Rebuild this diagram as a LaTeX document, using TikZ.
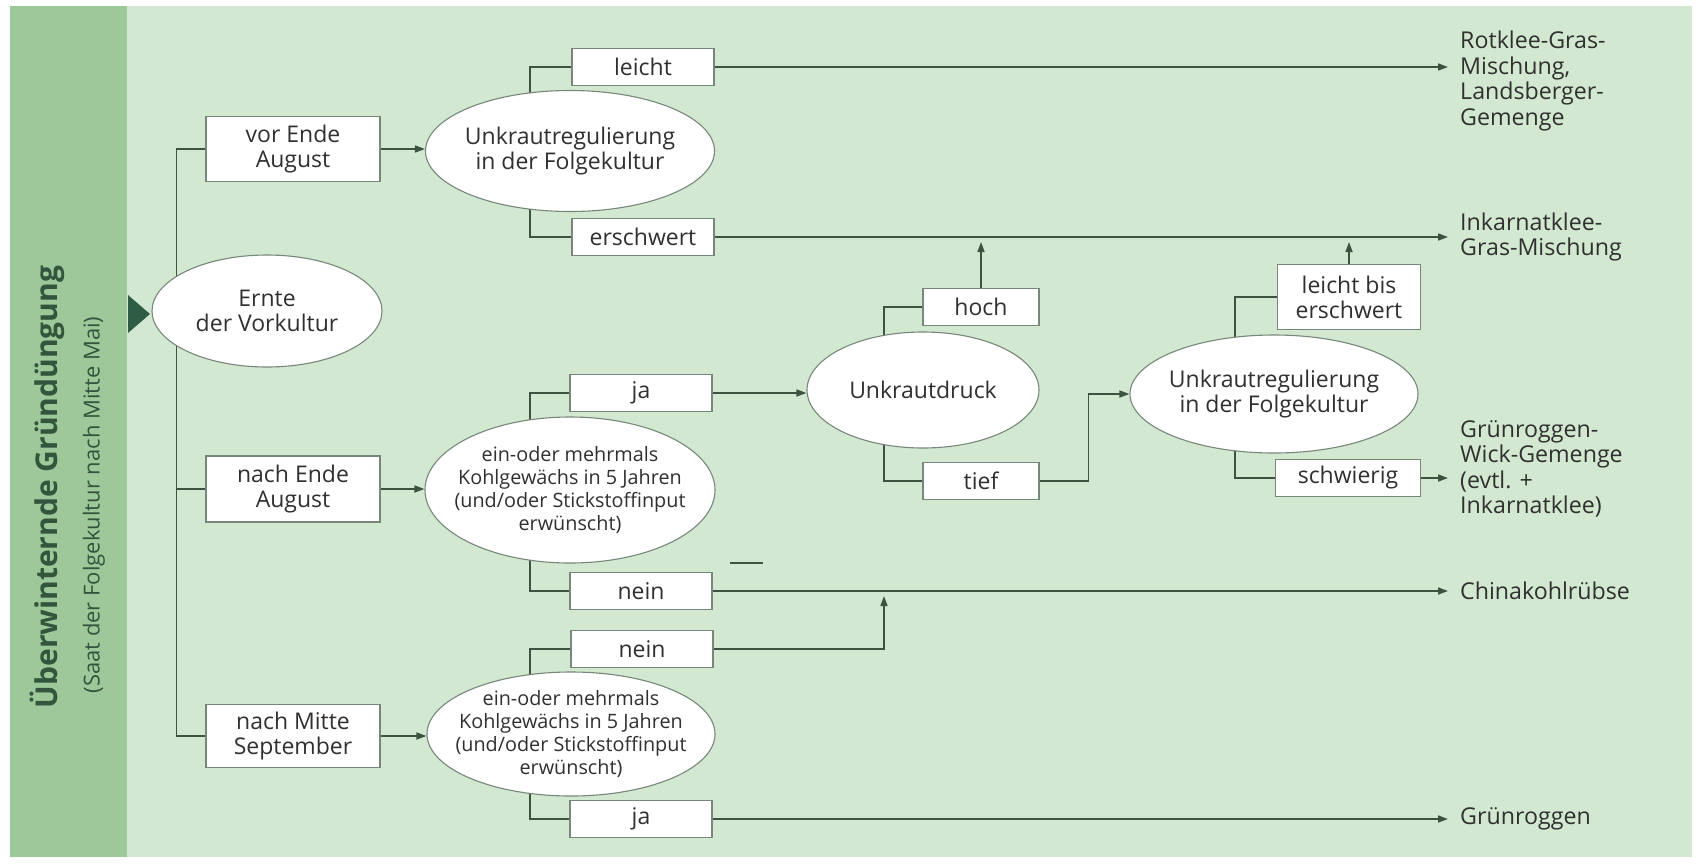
\documentclass[tikz,border=0pt]{standalone}
\usepackage{fontspec}
\setmainfont{Open Sans}
\usetikzlibrary{shapes.geometric,arrows.meta,backgrounds}
\definecolor{bglight}{HTML}{D3E8D1}
\definecolor{bandc}{HTML}{9DC899}
\definecolor{linec}{HTML}{3E5242}
\definecolor{boxc}{HTML}{77877A}
\definecolor{txt}{HTML}{303030}
\definecolor{tric}{HTML}{2F5C44}
\definecolor{bandtxt}{HTML}{33553D}
\tikzset{
  bx/.style={draw=boxc, line width=1.1pt, fill=white, minimum width=142pt, minimum height=37pt,
    inner sep=0pt, align=center, text=txt, font=\fontsize{23}{25}\selectfont},
  el/.style={ellipse, draw=boxc, line width=1.1pt, fill=white, inner sep=-40pt, align=center,
    text=txt, font=\fontsize{23}{25}\selectfont},
  elsmall/.style={el, font=\fontsize{19.8}{23.3}\selectfont},
  conn/.style={draw=linec, line width=1.6pt},
  arr/.style={conn, -{Triangle[length=10pt,width=7pt]}},
  lbl/.style={anchor=west, align=left, text=txt, inner sep=0pt, font=\fontsize{23.2}{25.5}\selectfont}
}
\begin{document}
\begin{tikzpicture}[x=1pt,y=-1pt]
\useasboundingbox (0,0) rectangle (1698,863);
% nodes
\node[el, minimum width=230pt, minimum height=112pt] (ernte) at (267,311) {Ernte\\der Vorkultur};
\node[bx, minimum width=174pt, minimum height=65pt] (vorEnde) at (293,149) {vor Ende\\August};
\node[bx, minimum width=174pt, minimum height=66pt] (nachEnde) at (293,489) {nach Ende\\August};
\node[bx, minimum width=174pt, minimum height=63pt] (nachMitte) at (293,736) {nach Mitte\\September};
\node[el, minimum width=289pt, minimum height=121pt] (ellA) at (570,151) {Unkrautregulierung\\in der Folgekultur};
\node[elsmall, minimum width=290pt, minimum height=146pt] (ellB) at (570,490) {ein-oder mehrmals\\Kohlgewächs in 5 Jahren\\(und/oder Stickstoffinput\\erwünscht)};
\node[elsmall, minimum width=288pt, minimum height=124pt] (ellC) at (571,734) {ein-oder mehrmals\\Kohlgewächs in 5 Jahren\\(und/oder Stickstoffinput\\erwünscht)};
\node[bx] (leicht) at (643,67) {leicht};
\node[bx] (erschw) at (643,237) {erschwert};
\node[bx] (ja1) at (641,393) {ja};
\node[bx] (nein1) at (641,591) {nein};
\node[bx] (nein2) at (642,649) {nein};
\node[bx] (ja2) at (641,819) {ja};
\node[el, minimum width=232pt, minimum height=116pt] (ellU) at (923,390) {Unkrautdruck};
\node[bx, minimum width=116pt] (hoch) at (981,307) {hoch};
\node[bx, minimum width=116pt] (tief) at (981,481) {tief};
\node[el, minimum width=288pt, minimum height=118pt] (ellD) at (1274,394) {Unkrautregulierung\\in der Folgekultur};
\node[bx, minimum width=143pt, minimum height=65pt] (lbe) at (1349,297) {leicht bis\\erschwert};
\node[bx, minimum width=145pt] (schw) at (1348,478) {schwierig};
% result labels
\node[lbl] (rot) at (1460,81) {Rotklee-Gras-\\Mischung,\\Landsberger-\\Gemenge};
\node[lbl] (ink) at (1460,237) {Inkarnatklee-\\Gras-Mischung};
\node[lbl] (gru) at (1460,469) {Grünroggen-\\Wick-Gemenge\\(evtl. +\\Inkarnatklee)};
\node[lbl] (chi) at (1460,591) {Chinakohlrübse};
\node[lbl] (gro) at (1460,819) {Grünroggen};
% side band texts
\node[rotate=90, inner sep=0pt, text=bandtxt, font=\fontsize{30}{32}\selectfont\bfseries] (title) at (47,487) {Überwinternde Gründüngung};
\node[rotate=90, inner sep=0pt, text=bandtxt, font=\fontsize{22}{24}\selectfont] (sub) at (94,505) {(Saat der Folgekultur nach Mitte Mai)};
\coordinate (jn) at (884,591);
% background layer
\begin{pgfonlayer}{background}
\fill[bglight] (10,6) rectangle (1692,857);
\fill[bandc] (10,6) rectangle (127,857);
\draw[conn] (vorEnde.west) -- ++(-29,0) |- (nachMitte.west);
\draw[conn] (nachEnde.west) -- ++(-29,0);
\draw[conn] ([xshift=-40pt]ellA.center) |- (leicht.west);
\draw[conn] ([xshift=-40pt]ellA.center) |- (erschw.west);
\draw[conn] ([xshift=-40pt]ellB.center) |- (ja1.west);
\draw[conn] ([xshift=-40pt]ellB.center) |- (nein1.west);
\draw[conn] ([xshift=-41pt]ellC.center) |- (nein2.west);
\draw[conn] ([xshift=-41pt]ellC.center) |- (ja2.west);
\draw[conn] ([xshift=-39pt]ellU.center) |- (hoch.west);
\draw[conn] ([xshift=-39pt]ellU.center) |- (tief.west);
\draw[conn] ([xshift=-39pt]ellD.center) |- (lbe.west);
\draw[conn] ([xshift=-39pt]ellD.center) |- (schw.west);
\end{pgfonlayer}
% triangle marker
\fill[tric] (128,295) -- (150,314) -- (128,333) -- cycle;
% stray mark
\draw[conn] (730,563) -- (763,563);
% arrows
\draw[arr] (vorEnde.east) -- (vorEnde.east -| ellA.west);
\draw[arr] (nachEnde.east) -- (nachEnde.east -| ellB.west);
\draw[arr] (nachMitte.east) -- (nachMitte.east -| ellC.west);
\draw[arr] (ja1.east) -- (ja1.east -| ellU.west);
\draw[arr] (tief.east) -- ++(49,0) |- (ellD.west);
\draw[arr, shorten >=5pt] (hoch.north) -- (hoch.north |- erschw.east);
\draw[arr, shorten >=5pt] (lbe.north) -- (lbe.north |- erschw.east);
\draw[arr, shorten >=5pt] (nein2.east) -| (jn);
\draw[arr, shorten >=12pt] (leicht.east) -- (leicht.east -| rot.west);
\draw[arr, shorten >=12pt] (erschw.east) -- (erschw.east -| ink.west);
\draw[arr, shorten >=12pt] (schw.east) -- (schw.east -| gru.west);
\draw[arr, shorten >=12pt] (nein1.east) -- (nein1.east -| chi.west);
\draw[arr, shorten >=12pt] (ja2.east) -- (ja2.east -| gro.west);
\end{tikzpicture}
\end{document}
